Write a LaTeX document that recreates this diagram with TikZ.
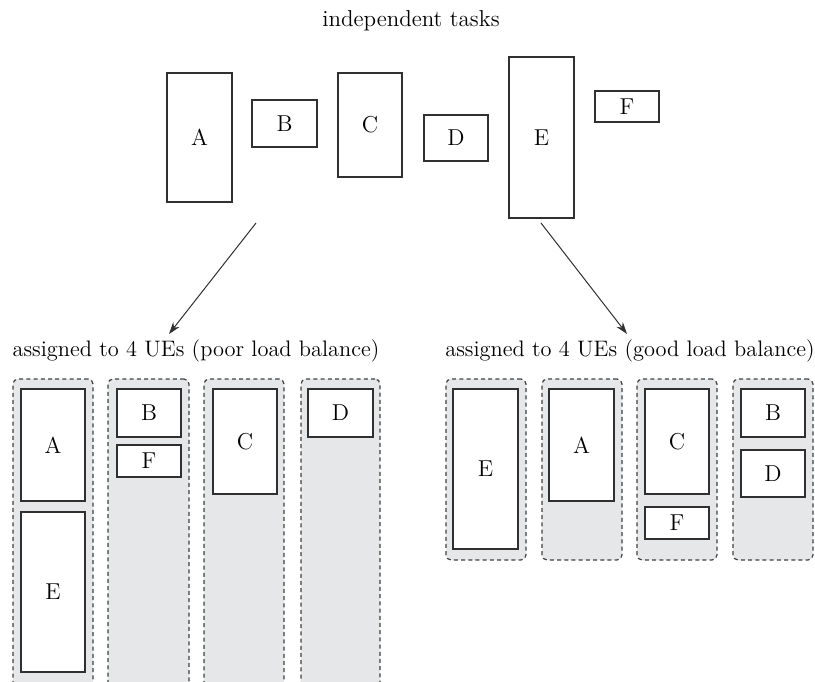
\documentclass[tikz,border=0pt]{standalone}
\usetikzlibrary{fit,arrows.meta}
\definecolor{uefill}{HTML}{E6E7E9}
\definecolor{inkgray}{HTML}{303030}
\definecolor{dashgray}{HTML}{404040}
\begin{document}
\begin{tikzpicture}[x=0.5pt,y=-0.5pt,
  font=\fontsize{11.5}{14}\selectfont,
  caption/.style={anchor=base, inner sep=0pt, font=\fontsize{11.2}{14}\selectfont},
  taskbox/.style={draw=inkgray, line width=0.62pt, fill=white,
    inner sep=0pt, fit={#1}},
  uecol/.style={draw=dashgray, line width=0.6pt, fill=uefill,
    dash pattern=on 2pt off 1.6pt, rounded corners=2.5pt,
    inner sep=0pt, fit={#1}},
  arrowline/.style={draw=inkgray, line width=0.5pt,
    -{Stealth[length=6pt,width=4pt]}}]
\useasboundingbox (0,0) rectangle (815,681);

% independent tasks
\node[caption, font=\fontsize{11.5}{14}\selectfont] (title) at (411,26) {independent tasks};
\node[taskbox={(167,73) (232,202)}, label=center:A] (tA) {};
\node[taskbox={(252,100) (317,147)}, label=center:B] (tB) {};
\node[taskbox={(338,73) (402,177)}, label=center:C] (tC) {};
\node[taskbox={(424,115) (488,161)}, label=center:D] (tD) {};
\node[taskbox={(509,57) (574,218)}, label=center:E] (tE) {};
\node[taskbox={(595,91) (659,122)}, label=center:F] (tF) {};

% the two assignments
\coordinate (poorStart) at (256,223);
\coordinate (poorEnd) at (169,334);
\coordinate (goodStart) at (541,223);
\coordinate (goodEnd) at (627,334);
\draw[arrowline] (poorStart) -- (poorEnd);
\draw[arrowline] (goodStart) -- (goodEnd);

\node[caption] (lblpoor) at (196,356) {assigned to 4 UEs (poor load balance)};
\node[caption] (lblgood) at (630,356) {assigned to 4 UEs (good load balance)};

% poor load balance
\node[uecol={(13,379) (93,700)}] (p1) {};
\node[uecol={(108,379) (189,700)}] (p2) {};
\node[uecol={(204,379) (284,700)}] (p3) {};
\node[uecol={(301,379) (380,700)}] (p4) {};
\node[taskbox={(21,389) (85,501)}, label=center:A] (pA) {};
\node[taskbox={(21,512) (85,672)}, label=center:E] (pE) {};
\node[taskbox={(117,389) (181,437)}, label=center:B] (pB) {};
\node[taskbox={(117,445) (181,477)}, label=center:F] (pF) {};
\node[taskbox={(213,389) (277,494)}, label=center:C] (pC) {};
\node[taskbox={(308,389) (373,437)}, label=center:D] (pD) {};

% good load balance
\node[uecol={(446,379) (526,560)}] (g1) {};
\node[uecol={(542,379) (622,560)}] (g2) {};
\node[uecol={(637,379) (717,560)}] (g3) {};
\node[uecol={(733,379) (813,560)}] (g4) {};
\node[taskbox={(453,389) (518,549)}, label=center:E] (gE) {};
\node[taskbox={(549,389) (614,501)}, label=center:A] (gA) {};
\node[taskbox={(645,389) (709,494)}, label=center:C] (gC) {};
\node[taskbox={(645,507) (709,539)}, label=center:F] (gF) {};
\node[taskbox={(741,389) (805,437)}, label=center:B] (gB) {};
\node[taskbox={(741,450) (805,497)}, label=center:D] (gD) {};
\end{tikzpicture}
\end{document}
